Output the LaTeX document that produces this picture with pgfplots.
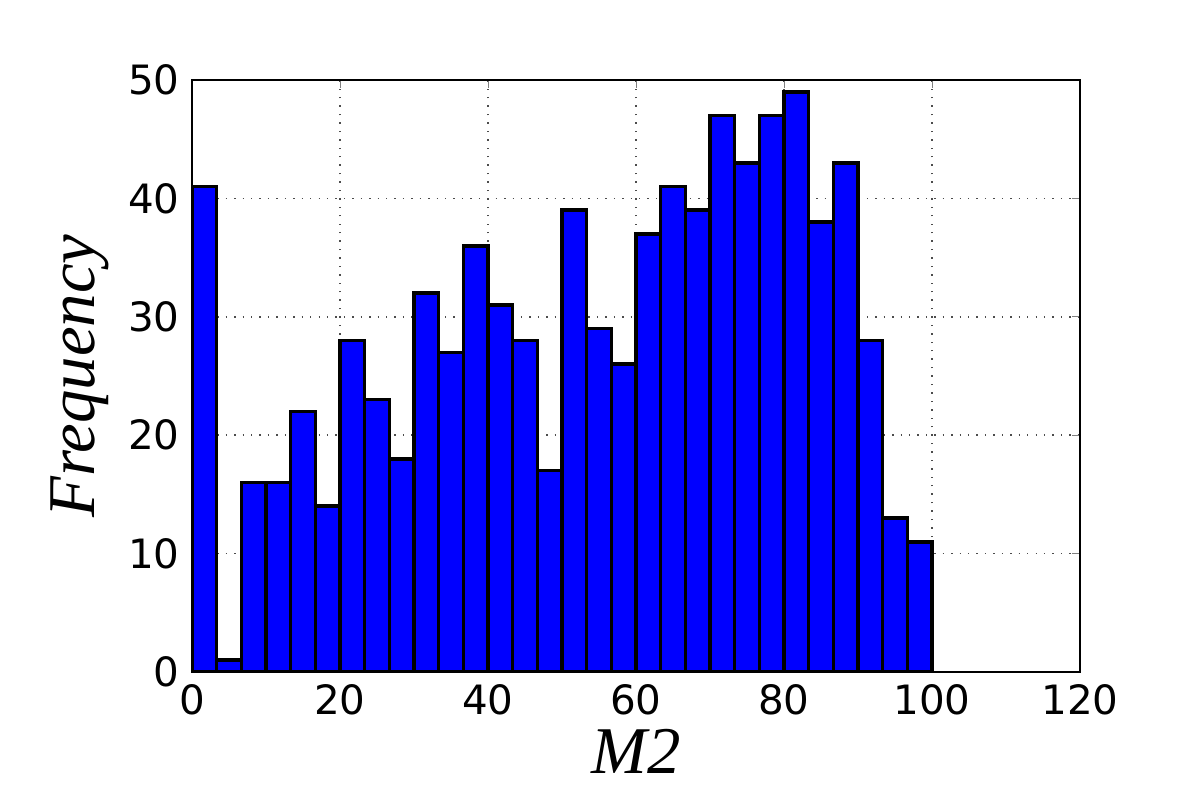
\documentclass[border=0pt]{standalone}
\usepackage{pgfplots}
\pgfplotsset{compat=1.18}
\usepackage{fontspec}
\setmainfont{DejaVu Sans}
\newfontfamily\labfont{Liberation Serif}
\begin{document}
\begin{tikzpicture}
\path (0,0) rectangle (12cm,8cm);
\begin{axis}[
  at={(1.92cm,1.28cm)}, anchor=south west,
  scale only axis, width=8.88cm, height=5.92cm,
  xmin=0, xmax=120, ymin=0, ymax=50,
  xtick={0,20,...,120}, ytick={0,10,...,50},
  tick align=inside, tick pos=both,
  major tick length=0.08cm,
  grid=major, grid style={dotted, black!70},
  /pgf/number format/assume math mode=true,
  ticklabel style={font=\fontsize{11.5}{13}\selectfont},
  xlabel={\labfont\itshape M2}, ylabel={\labfont\itshape Frequency},
  label style={font=\fontsize{19}{22}\selectfont},
  xlabel style={yshift=0.1cm},
  ylabel style={yshift=-0.05cm},
  axis line style={line width=0.4pt},
]
\addplot[ybar interval, fill=blue, draw=black, line width=1pt] coordinates {
(0,41)(3.3333,1)(6.6667,16)(10,16)(13.3333,22)(16.6667,14)(20,28)(23.3333,23)(26.6667,18)(30,32)
(33.3333,27)(36.6667,36)(40,31)(43.3333,28)(46.6667,17)(50,39)(53.3333,29)(56.6667,26)(60,37)(63.3333,41)
(66.6667,39)(70,47)(73.3333,43)(76.6667,47)(80,49)(83.3333,38)(86.6667,43)(90,28)(93.3333,13)(96.6667,11)(100,11)};
\end{axis}
\end{tikzpicture}
\end{document}
